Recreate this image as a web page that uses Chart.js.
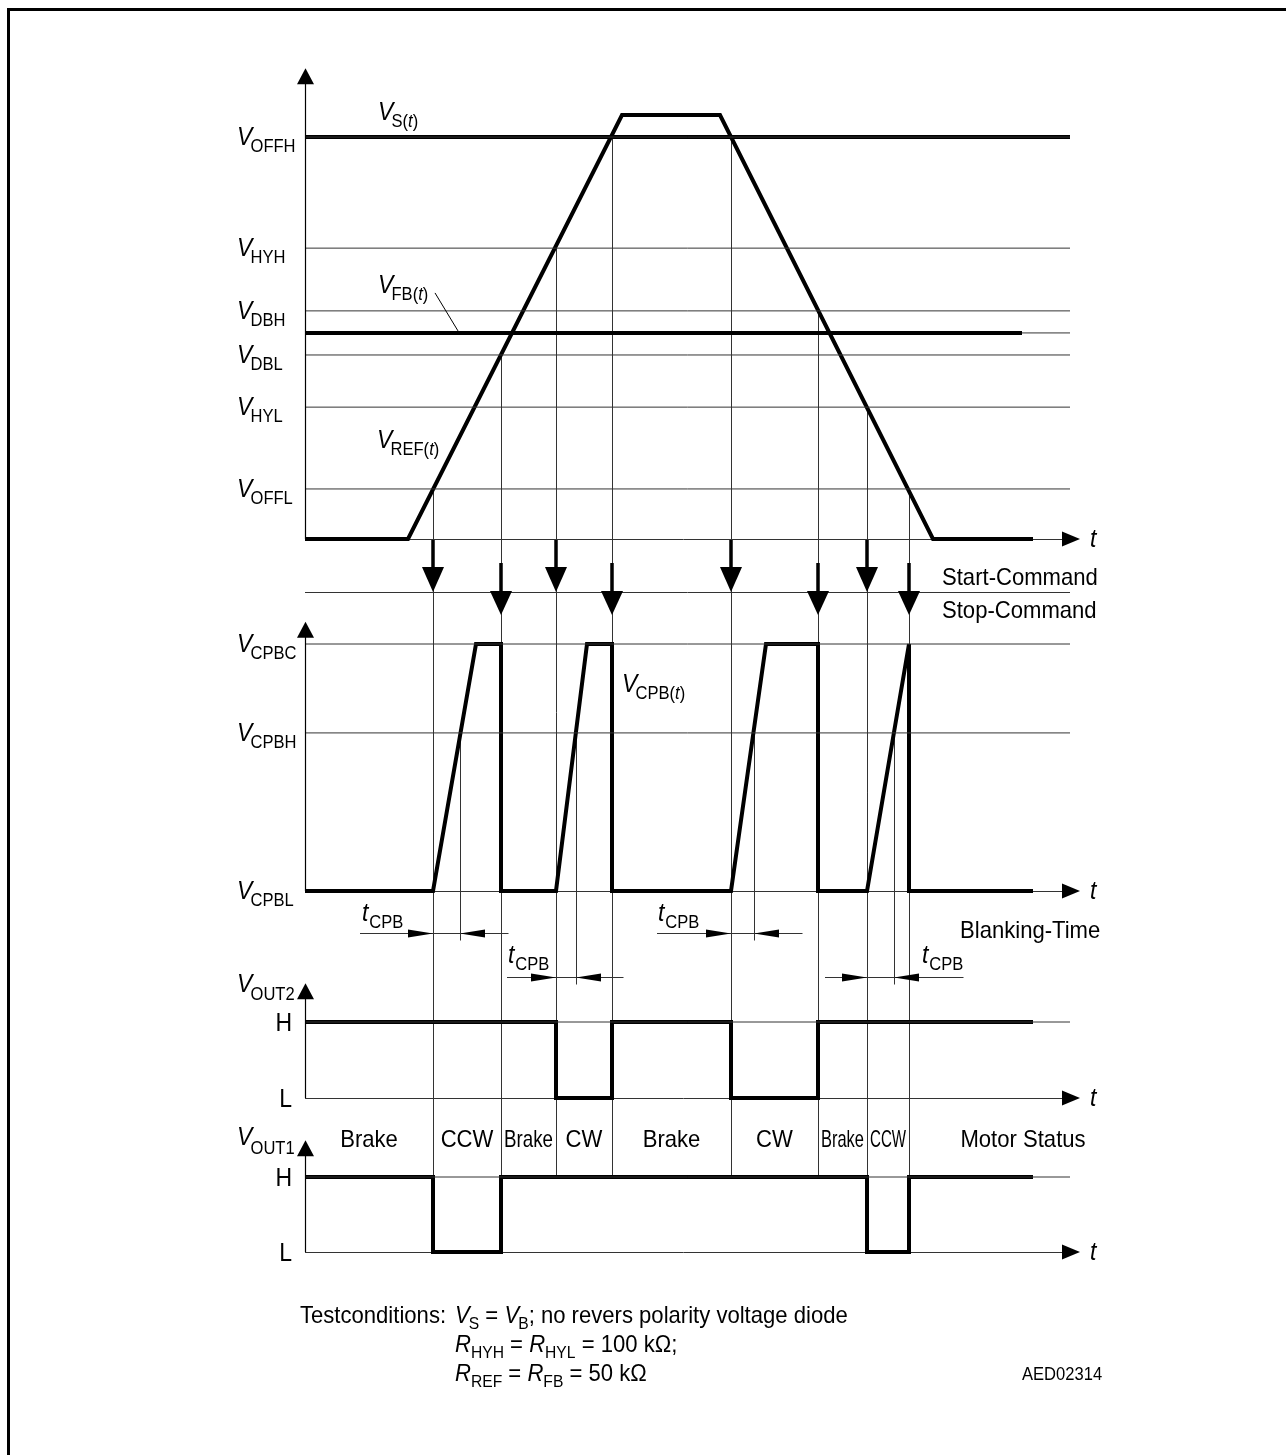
<!DOCTYPE html>
<html>
<head>
<meta charset="utf-8">
<script src="https://cdn.jsdelivr.net/npm/chart.js@4.4.0/dist/chart.umd.min.js"></script>
<style>
html, body { margin: 0; padding: 0; background: #fff; }
#wrap { width: 1286px; height: 1455px; }
</style>
</head>
<body>
<div id="wrap"><canvas id="timing" width="1286" height="1455"></canvas></div>
<script>
// time axis in arbitrary units, voltages in arbitrary units per panel
var refTime = [0, 10.3, 31.7, 41.5, 62.8, 72.8];
var refVolt = [0, 0, 10, 10, 0, 0];
var vsLevel = 9.48;
var fbLevel = 4.86;
var fbEnd = 71.7;
var levelNames = ["OFFH", "HYH", "DBH", "DBL", "HYL", "OFFL"];
var levelValues = [9.48, 6.86, 5.38, 4.34, 3.11, 1.18];

var startTimes = [12.8, 25.1, 42.6, 56.2];
var startFrom = [1.18, 6.86, 9.48, 3.11];
var stopTimes = [19.6, 30.7, 51.3, 60.4];
var stopFrom = [4.34, 9.48, 5.38, 1.18];

var cpbNames = ["CPBC", "CPBH", "CPBL"];
var cpbLevels = [5, 3.2, 0];
var cpbTime = [0, 12.8, 17.1, 19.6, 19.6, 25.1, 28.2, 30.7, 30.7, 42.6, 46.1, 51.3, 51.3, 56.2, 60.4, 60.4, 72.8];
var cpbVolt = [0, 0, 5, 5, 0, 0, 5, 5, 0, 0, 5, 5, 0, 0, 5, 0, 0];
var tcpbStart = [12.8, 25.1, 42.6, 56.2];
var tcpbEnd = [15.5, 27.1, 44.9, 58.9];

var out2Time = [0, 25.1, 25.1, 30.7, 30.7, 42.6, 42.6, 51.3, 51.3, 72.8];
var out2Level = [1, 1, 0, 0, 1, 1, 0, 0, 1, 1];
var out1Time = [0, 12.8, 12.8, 19.6, 19.6, 56.2, 56.2, 60.4, 60.4, 72.8];
var out1Level = [1, 1, 0, 0, 1, 1, 0, 0, 1, 1];

var statusLabels = ["Brake", "CCW", "Brake", "CW", "Brake", "CW", "Brake", "CCW"];
var statusBounds = [0, 12.8, 19.6, 25.1, 30.7, 42.6, 51.3, 56.2, 60.4];

var lineEnd = 76.5;
var arrowBase = 75.7;
var arrowTip = 77.5;

var W = 1286, H = 1455;
var FONT = '"Liberation Sans", Arial, Helvetica, sans-serif';
var SX = 0.92; // the original lettering is a little narrow
var THIN = "#333";

function pts(xs, ys) {
	return xs.map(function(x, i) { return { x: x, y: ys[i] }; });
}
function band(zeroPx, pxPerUnit) {
	return { min: (zeroPx - H) / pxPerUnit, max: zeroPx / pxPerUnit };
}
function flat(v, axis, width, from, to) {
	return {
		data: pts([from === undefined ? 0 : from, to === undefined ? lineEnd : to], [v, v]),
		yAxisID: axis, borderColor: width > 2 ? "#000" : THIN, borderWidth: width
	};
}
function trace(xs, ys, axis) {
	return { data: pts(xs, ys), yAxisID: axis, borderColor: "#000", borderWidth: 4, borderJoinStyle: "miter" };
}

var datasets = [];
levelValues.forEach(function(v) { datasets.push(flat(v, "yRef", 1)); });
datasets.push(flat(fbLevel, "yRef", 1, fbEnd, lineEnd));
datasets.push(flat(vsLevel, "yRef", 4));
datasets.push(flat(fbLevel, "yRef", 4, 0, fbEnd));
datasets.push(trace(refTime, refVolt, "yRef"));
cpbLevels.slice(0, 2).forEach(function(v) { datasets.push(flat(v, "yCpb", 1)); });
datasets.push(trace(cpbTime, cpbVolt, "yCpb"));
datasets.push(flat(1, "yOut2", 1));
datasets.push(trace(out2Time, out2Level, "yOut2"));
datasets.push(flat(1, "yOut1", 1));
datasets.push(trace(out1Time, out1Level, "yOut1"));

// draws runs of text (italic / subscript) left to right, condensed by SX
function text(ctx, x, y, parts) {
	var cx = 0;
	ctx.save();
	ctx.translate(x, y);
	ctx.scale(SX, 1);
	parts.forEach(function(p) {
		ctx.font = (p.it ? "italic " : "") + p.sz + "px " + FONT;
		ctx.fillText(p.s, cx, p.dy || 0);
		cx += ctx.measureText(p.s).width + (p.gap || 0);
	});
	ctx.restore();
	return x + cx * SX;
}
function plain(ctx, s, x, y, sz, align, k) {
	ctx.save();
	ctx.font = sz + "px " + FONT;
	ctx.textAlign = align || "left";
	ctx.translate(x, y);
	ctx.scale(k || SX, 1);
	ctx.fillText(s, 0, 0);
	ctx.restore();
}
function vname(sub, withT, dy) {
	dy = dy || 7;
	var p = [{ s: "V", it: true, sz: 25, gap: -2 }];
	if (withT) {
		p.push({ s: sub + "(", sz: 18, dy: dy });
		p.push({ s: "t", it: true, sz: 18, dy: dy });
		p.push({ s: ")", sz: 18, dy: dy });
	} else {
		p.push({ s: sub, sz: 18, dy: dy });
	}
	return p;
}
function tri(ctx, tx, ty, dir, len, half) {
	ctx.beginPath();
	ctx.moveTo(tx, ty);
	if (dir === "down") { ctx.lineTo(tx - half, ty - len); ctx.lineTo(tx + half, ty - len); }
	if (dir === "up") { ctx.lineTo(tx - half, ty + len); ctx.lineTo(tx + half, ty + len); }
	if (dir === "right") { ctx.lineTo(tx - len, ty - half); ctx.lineTo(tx - len, ty + half); }
	if (dir === "left") { ctx.lineTo(tx + len, ty - half); ctx.lineTo(tx + len, ty + half); }
	ctx.closePath();
	ctx.fill();
}
function seg(ctx, x1, y1, x2, y2) {
	ctx.beginPath();
	ctx.moveTo(x1, y1);
	ctx.lineTo(x2, y2);
	ctx.stroke();
}

var diagram = {
	id: "diagram",
	beforeDatasetsDraw: function(chart) {
		var ctx = chart.ctx, s = chart.scales;
		var x = s.x, yR = s.yRef, yC = s.yCpb, y1 = s.yOut1;
		ctx.save();
		ctx.strokeStyle = "#000";
		ctx.lineWidth = 3;
		ctx.beginPath();
		ctx.moveTo(8.5, H);
		ctx.lineTo(8.5, 9.5);
		ctx.lineTo(W, 9.5);
		ctx.stroke();

		ctx.strokeStyle = THIN;
		ctx.lineWidth = 1;
		var bottom = y1.getPixelForValue(1);
		startTimes.forEach(function(t, i) {
			var px = Math.round(x.getPixelForValue(t)) + 0.5;
			seg(ctx, px, yR.getPixelForValue(startFrom[i]), px, bottom);
		});
		stopTimes.forEach(function(t, i) {
			var px = Math.round(x.getPixelForValue(t)) + 0.5;
			seg(ctx, px, yR.getPixelForValue(stopFrom[i]), px, bottom);
		});

		// command rows
		var z = yR.getPixelForValue(0);
		var cmdLine = Math.round(z + 53) + 0.5;
		seg(ctx, x.getPixelForValue(0), cmdLine, x.getPixelForValue(lineEnd), cmdLine);

		// blanking time marks
		var zc = yC.getPixelForValue(0);
		var rows = [42, 86, 42, 86];
		var leftExt = [73, 49, 74, 42];
		var rightExt = [48, 47, 48, 69];
		tcpbEnd.forEach(function(t, i) {
			var ry = Math.round(zc + rows[i]) + 0.5;
			var xs = x.getPixelForValue(tcpbStart[i]);
			var xe = Math.round(x.getPixelForValue(t)) + 0.5;
			seg(ctx, xe, yC.getPixelForValue(cpbLevels[1]), xe, ry + 7);
			seg(ctx, xs - leftExt[i], ry, xe + rightExt[i], ry);
		});

		// zero axes
		[s.yRef, s.yCpb, s.yOut2, s.yOut1].forEach(function(ax) {
			var py = Math.round(ax.getPixelForValue(0)) + 0.5;
			seg(ctx, x.getPixelForValue(0), py, x.getPixelForValue(arrowBase), py);
		});
		ctx.restore();
	},
	afterDatasetsDraw: function(chart) {
		var ctx = chart.ctx, s = chart.scales;
		var x = s.x, yR = s.yRef, yC = s.yCpb, y2 = s.yOut2, y1 = s.yOut1;
		var x0 = x.getPixelForValue(0);
		ctx.save();
		ctx.fillStyle = "#000";
		ctx.strokeStyle = "#000";

		// vertical axes with arrows
		var axes = [[yR, 11.1], [yC, 5.45], [y2, 1.51], [y1, 1.49]];
		ctx.lineWidth = 1.2;
		axes.forEach(function(a) {
			var tip = a[0].getPixelForValue(a[1]);
			seg(ctx, x0 + 0.5, tip + 10, x0 + 0.5, a[0].getPixelForValue(0));
			tri(ctx, x0 + 0.5, tip, "up", 16, 8.5);
			var py = a[0].getPixelForValue(0);
			tri(ctx, x.getPixelForValue(arrowTip), py, "right", 18, 7.5);
			text(ctx, x.getPixelForValue(arrowTip) + 10, py + 8, [{ s: "t", it: true, sz: 25 }]);
		});

		// start / stop command arrows
		var z = yR.getPixelForValue(0);
		ctx.lineWidth = 3.5;
		startTimes.forEach(function(t) {
			var px = x.getPixelForValue(t);
			seg(ctx, px, z + 1, px, z + 30);
			tri(ctx, px, z + 53, "down", 25, 11);
		});
		stopTimes.forEach(function(t) {
			var px = x.getPixelForValue(t);
			seg(ctx, px, z + 24, px, z + 54);
			tri(ctx, px, z + 76, "down", 24, 11);
		});

		// blanking arrows
		var zc = yC.getPixelForValue(0);
		var rows = [42, 86, 42, 86];
		var labDx = [-71, -48, -73, 55];
		var labDy = [-13, -15, -13, -15];
		tcpbEnd.forEach(function(t, i) {
			var ry = Math.round(zc + rows[i]) + 0.5;
			var xs = x.getPixelForValue(tcpbStart[i]);
			var xe = x.getPixelForValue(t);
			tri(ctx, xs, ry, "right", 25, 4);
			tri(ctx, xe, ry, "left", 25, 4);
			text(ctx, xs + labDx[i], ry + labDy[i], [{ s: "t", it: true, sz: 25, gap: 1 }, { s: "CPB", sz: 18, dy: 7 }]);
		});

		// level labels
		levelNames.forEach(function(n, i) {
			text(ctx, 237, yR.getPixelForValue(levelValues[i]) + 8, vname(n));
		});
		cpbNames.forEach(function(n, i) {
			text(ctx, 237, yC.getPixelForValue(cpbLevels[i]) + 8, vname(n));
		});
		text(ctx, 237, y2.getPixelForValue(1) - 30, vname("OUT2", false, 8));
		text(ctx, 237, y1.getPixelForValue(1) - 32, vname("OUT1", false, 9));
		[[y2, 1, "H"], [y2, 0, "L"], [y1, 1, "H"], [y1, 0, "L"]].forEach(function(l) {
			plain(ctx, l[2], 292, l[0].getPixelForValue(l[1]) + 9, 25, "right");
		});

		// signal names
		text(ctx, 378, yR.getPixelForValue(vsLevel) - 17, vname("S", true));
		text(ctx, 378, yR.getPixelForValue(fbLevel) - 40, vname("FB", true));
		text(ctx, 377, yR.getPixelForValue(levelValues[4]) + 41, vname("REF", true));
		text(ctx, 622, yC.getPixelForValue(cpbLevels[0]) + 48, vname("CPB", true));
		ctx.lineWidth = 1;
		seg(ctx, 435, yR.getPixelForValue(fbLevel) - 40, 458, yR.getPixelForValue(fbLevel) - 2);

		plain(ctx, "Start-Command", 942, z + 46, 24);
		plain(ctx, "Stop-Command", 942, z + 79, 24);
		plain(ctx, "Blanking-Time", 960, zc + 47, 24);

		// motor status
		var sy = (y2.getPixelForValue(0) + y1.getPixelForValue(1)) / 2 + 9;
		ctx.font = "24px " + FONT;
		statusLabels.forEach(function(lab, i) {
			var a = x.getPixelForValue(statusBounds[i]);
			var b = x.getPixelForValue(statusBounds[i + 1]);
			var w = ctx.measureText(lab).width;
			var k = Math.min(SX, (b - a - 6) / w);
			plain(ctx, lab, (a + b) / 2, sy, 24, "center", k);
		});
		plain(ctx, "Motor Status", 1023, sy, 24, "center");

		// test conditions
		plain(ctx, "Testconditions:", 300, 1323, 24);
		text(ctx, 455, 1323, [
			{ s: "V", it: true, sz: 24, gap: -1 }, { s: "S", sz: 17, dy: 6 }, { s: " = ", sz: 24 },
			{ s: "V", it: true, sz: 24, gap: -1 }, { s: "B", sz: 17, dy: 6 },
			{ s: "; no revers polarity voltage diode", sz: 24 }
		]);
		text(ctx, 455, 1352, [
			{ s: "R", it: true, sz: 24 }, { s: "HYH", sz: 17, dy: 6 }, { s: " = ", sz: 24 },
			{ s: "R", it: true, sz: 24 }, { s: "HYL", sz: 17, dy: 6 }, { s: " = 100 k\u03a9;", sz: 24 }
		]);
		text(ctx, 455, 1381, [
			{ s: "R", it: true, sz: 24 }, { s: "REF", sz: 17, dy: 6 }, { s: " = ", sz: 24 },
			{ s: "R", it: true, sz: 24 }, { s: "FB", sz: 17, dy: 6 }, { s: " = 50 k\u03a9", sz: 24 }
		]);
		plain(ctx, "AED02314", 1022, 1380, 18);
		ctx.restore();
	}
};

new Chart(document.getElementById("timing"), {
	type: "scatter",
	data: { datasets: datasets.map(function(d) {
		d.showLine = true;
		d.pointRadius = 0;
		d.tension = 0;
		return d;
	}) },
	options: {
		responsive: false,
		animation: false,
		events: [],
		layout: { padding: 0 },
		plugins: { legend: { display: false }, tooltip: { enabled: false } },
		scales: {
			x: { type: "linear", display: false, min: -30.5, max: (W - 305) / 10 },
			yRef: Object.assign({ type: "linear", display: false }, band(539, 42.4)),
			yCpb: Object.assign({ type: "linear", display: false }, band(891, 49.4)),
			yOut2: Object.assign({ type: "linear", display: false }, band(1098, 76)),
			yOut1: Object.assign({ type: "linear", display: false }, band(1252, 75))
		}
	},
	plugins: [diagram]
});
</script>
</body>
</html>
